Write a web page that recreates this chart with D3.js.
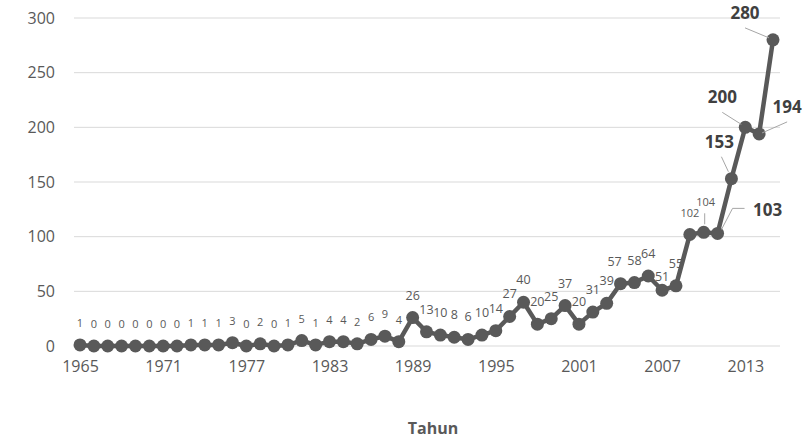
<!DOCTYPE html>
<html>
<head>
<meta charset="utf-8">
<script src="https://cdn.jsdelivr.net/npm/d3@7"></script>
<style>
  body { margin: 0; background: #fff; }
  text { font-family: "Open Sans", sans-serif; }
</style>
</head>
<body>
<script>
// jumlah per tahun, 1965 - 2015
let years = d3.range(1965, 2016);
let counts = [1, 0, 0, 0, 0, 0, 0, 0, 1, 1,
              1, 3, 0, 2, 0, 1, 5, 1, 4, 4,
              2, 6, 9, 4, 26, 13, 10, 8, 6, 10,
              14, 27, 40, 20, 25, 37, 20, 31, 39, 57,
              58, 64, 51, 55, 102, 104, 103, 153, 200, 194,
              280];
let yTicks = [0, 50, 100, 150, 200, 250, 300];
let xTicks = [1965, 1971, 1977, 1983, 1989, 1995, 2001, 2007, 2013];
let xTitle = "Tahun";

function main(){
    let width = 807, height = 448;
    let gray = "#595959";

    let svg = d3.select("body").append("svg")
        .attr("width", width)
        .attr("height", height);

    let x = d3.scaleLinear().domain([1965, 2015]).range([80, 773]);
    let y = d3.scaleLinear().domain([0, 300]).range([346, 18]);

    let data = years.map((yr, i) => ({year: yr, value: counts[i]}));

    // gridlines
    svg.append("g")
        .selectAll("line")
        .data(yTicks)
        .enter()
        .append("line")
        .attr("x1", 74)
        .attr("x2", 780)
        .attr("y1", d => y(d))
        .attr("y2", d => y(d))
        .style("stroke", "#d9d9d9")
        .style("stroke-width", 1);

    let yAxis = svg.append("g")
        .attr("transform", "translate(74,0)")
        .call(d3.axisLeft(y).tickValues(yTicks).tickSize(0).tickPadding(19));
    yAxis.select(".domain").remove();
    yAxis.selectAll("text")
        .style("font-size", "16px")
        .style("fill", gray);

    let xAxis = svg.append("g")
        .attr("transform", "translate(0,346)")
        .call(d3.axisBottom(x).tickValues(xTicks).tickFormat(d3.format("d")).tickSize(0).tickPadding(15));
    xAxis.select(".domain").remove();
    xAxis.selectAll("text")
        .style("font-size", "16px")
        .style("fill", gray);

    svg.append("text")
        .attr("x", 433)
        .attr("y", 434)
        .attr("text-anchor", "middle")
        .style("font-size", "16px")
        .style("font-weight", "bold")
        .style("fill", gray)
        .text(xTitle);

    let line = d3.line()
        .x(d => x(d.year))
        .y(d => y(d.value));

    svg.append("path")
        .datum(data)
        .attr("d", line)
        .style("fill", "none")
        .style("stroke", gray)
        .style("stroke-width", 4.5)
        .style("stroke-linejoin", "round");

    svg.selectAll("circle.pt")
        .data(data)
        .enter()
        .append("circle")
        .attr("class", "pt")
        .attr("cx", d => x(d.year))
        .attr("cy", d => y(d.value))
        .attr("r", 6.5)
        .style("fill", gray);

    // label placement tweaks (offsets from the point)
    let special = {
        2004: {dx: -6, dy: -18},
        2007: {dx: 0, dy: -9},
        2009: {dx: 0, dy: -17, size: 11},
        2010: {dx: 2, dy: -26, size: 11, lead: [[1, -19], [1, -8]]},
        2011: {dx: 50, dy: -17, big: true, lead: [[27, -25], [15, -25], [4, -4]]},
        2012: {dx: -12, dy: -31, big: true, lead: [[-10, -22], [-3, -7]]},
        2013: {dx: -23, dy: -24, big: true, lead: [[-23, -15], [-4, -3]]},
        2014: {dx: 28, dy: -21, big: true, lead: [[28, -12], [3, -1]]},
        2015: {dx: -28, dy: -21, big: true, lead: [[-28, -12], [-4, -2]]}
    };

    let labels = svg.append("g");
    data.forEach(function(d){
        let s = special[d.year] || {dx: 0, dy: -18};
        let px = x(d.year), py = y(d.value);
        if(s.lead){
            labels.append("path")
                .attr("d", d3.line()(s.lead.map(p => [px + p[0], py + p[1]])))
                .style("fill", "none")
                .style("stroke", "#a6a6a6")
                .style("stroke-width", 1);
        }
        let size = s.big ? 17 : (s.size || (d.year < 1989 ? 11 : 12.5));
        labels.append("text")
            .attr("x", px + s.dx)
            .attr("y", py + s.dy)
            .attr("text-anchor", "middle")
            .style("font-size", size + "px")
            .style("font-weight", s.big ? "bold" : "normal")
            .style("fill", s.big ? "#404040" : gray)
            .text(d.value);
    });
}

main();
</script>
</body>
</html>
